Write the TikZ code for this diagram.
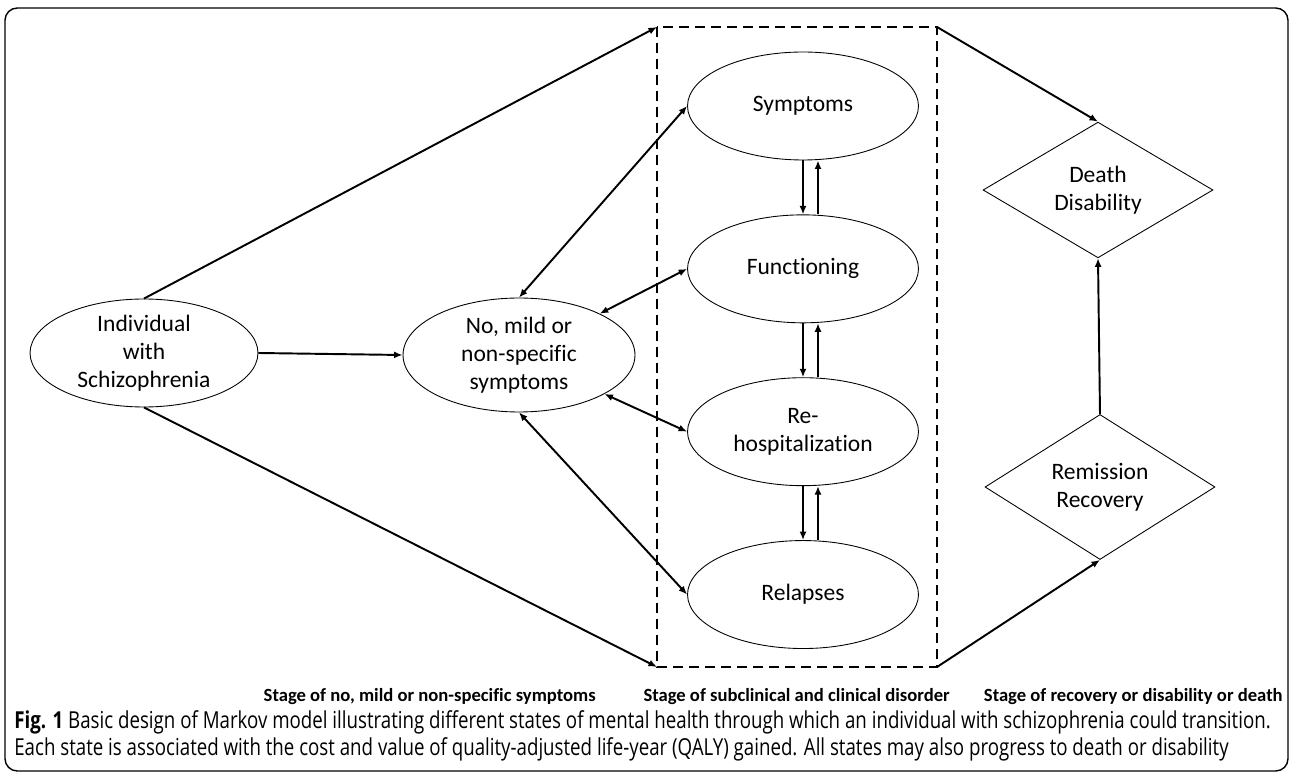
\documentclass[tikz,border=0pt]{standalone}
\usepackage{fontspec}
\setmainfont[Ligatures=NoCommon]{Carlito}
\newfontfamily\capfont[FakeStretch=0.8]{Open Sans}
\usepackage{tikz}
\usetikzlibrary{arrows.meta,positioning,shapes.geometric}

\begin{document}
\begin{tikzpicture}[x=0.02cm,y=-0.02cm,node distance=1.08cm,>={Latex[length=1.7mm,width=1.4mm]},
  state/.style={draw,ellipse,line width=0.5pt,align=center,inner sep=0pt,minimum width=4.62cm,minimum height=2.16cm,font=\fontsize{13.4}{16}\selectfont},
  endstate/.style={draw,diamond,line width=0.5pt,align=center,inner sep=0pt,minimum width=4.6cm,minimum height=2.28cm,font=\fontsize{13.4}{16}\selectfont},
  link/.style={line width=1.1pt},
  stagelab/.style={anchor=east,inner sep=0pt,font=\bfseries\fontsize{10.6}{13}\selectfont},
  captext/.style={anchor=base west,inner sep=0pt,font=\capfont\fontsize{13.3}{16}\selectfont}]
  \useasboundingbox (0,0) rectangle (1292,776);
  \draw[line width=0.8pt,rounded corners=7pt] (5,8) rectangle (1288,771);

  % entry states
  \node[state,minimum width=4.56cm,minimum height=2.12cm] (ind) at (144,353) {Individual\\with\\Schizophrenia};
  \node[state,minimum width=4.64cm,minimum height=2.28cm] (nomild) at (519,355) {No, mild or\\non-specific\\symptoms};

  % subclinical and clinical states
  \node[state] (sym) at (803,106) {Symptoms};
  \node[state,below=of sym] (func) {Functioning};
  \node[state,below=of func] (rehosp) {Re-\\hospitalization};
  \node[state,below=of rehosp] (relap) {Relapses};

  % recovery, disability, death
  \node[endstate] (death) at (1098,190) {Death\\Disability};
  \node[endstate] (remis) at (1100,487) {Remission\\Recovery};

  % stage box
  \coordinate (btl) at (657,27);
  \coordinate (btr) at (937,27);
  \coordinate (bbl) at (657,667);
  \coordinate (bbr) at (937,667);
  \draw[line width=1.3pt,dash pattern=on 0.2cm off 0.12cm] (btl) rectangle (bbr);

  \draw[->,link] (ind.north) -- (btl);
  \draw[->,link] (ind.south) -- (bbl);
  \draw[->,link] (ind.east) -- (nomild.west);
  \draw[<->,link] (nomild.north) -- (sym.west);
  \draw[<->,link] (nomild) -- (func.west);
  \draw[<->,link] (nomild) -- (rehosp.west);
  \draw[<->,link] (nomild.south) -- (relap.west);
  \draw[->,link] (sym.south) -- (func.north);
  \draw[->,link] ([xshift=0.3cm]func.north) -- ([xshift=0.3cm]sym.south);
  \draw[->,link] (func.south) -- (rehosp.north);
  \draw[->,link] ([xshift=0.3cm]rehosp.north) -- ([xshift=0.3cm]func.south);
  \draw[->,link] (rehosp.south) -- (relap.north);
  \draw[->,link] ([xshift=0.3cm]relap.north) -- ([xshift=0.3cm]rehosp.south);
  \draw[->,link] (btr) -- (death.north);
  \draw[->,link] (bbr) -- (remis.south);
  \draw[->,link] (remis.north) -- (death.south);

  % stage labels
  \node[stagelab] (lab1) at (596,697) {Stage of no, mild or non-specific symptoms};
  \node[stagelab] (lab2) at (950,697) {Stage of subclinical and clinical disorder};
  \node[stagelab] (lab3) at (1283,697) {Stage of recovery or disability or death};

  % caption
  \node[captext] (cap1) at (14,728)
    {\textbf{Fig. 1} Basic design of Markov model illustrating different states of mental health through which an individual with schizophrenia could transition.};
  \node[captext] (cap2) at (14,755)
    {Each state is associated with the cost and value of quality-adjusted life-year (QALY) gained. All states may also progress to death or disability};
\end{tikzpicture}
\end{document}
